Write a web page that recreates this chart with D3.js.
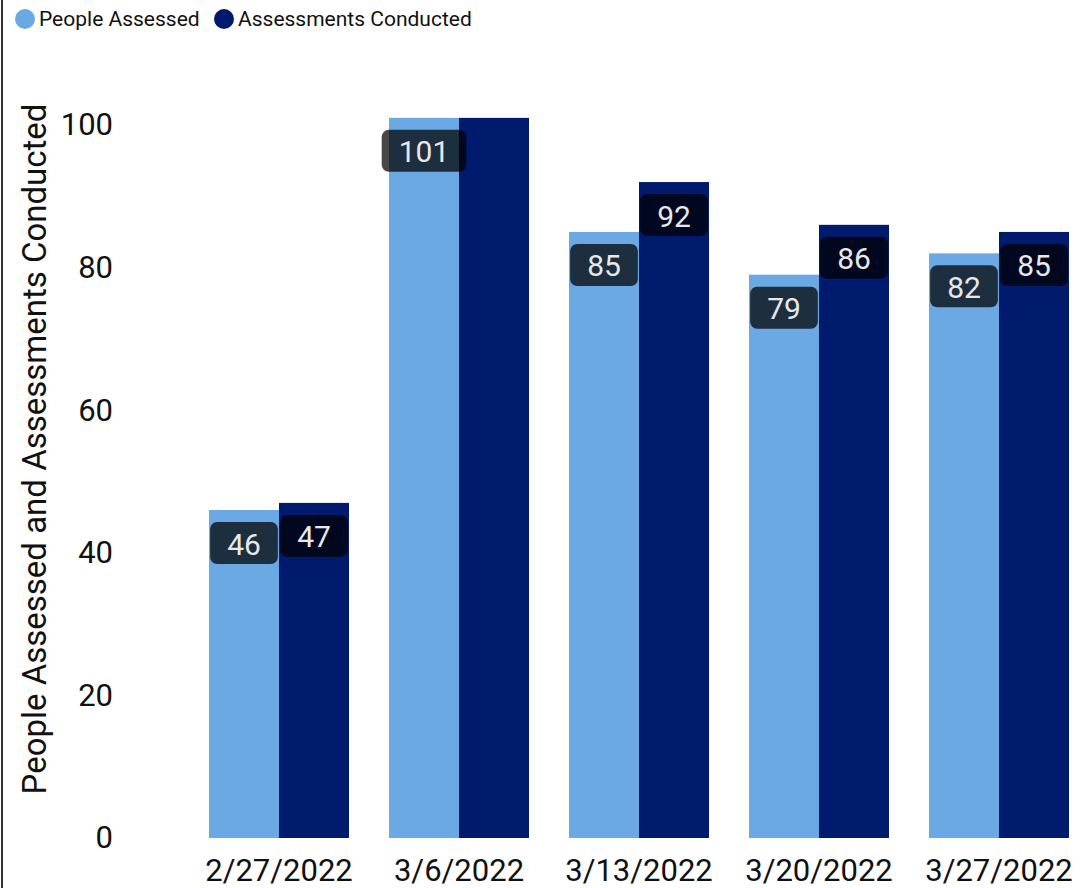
<!DOCTYPE html>
<html>
<head>
<meta charset="utf-8">
<script src="https://cdn.jsdelivr.net/npm/d3@7"></script>
<style>
  html, body { margin: 0; padding: 0; background: #fff; }
  svg { display: block; }
  text { font-family: Roboto, "DejaVu Sans", sans-serif; }
</style>
</head>
<body>
<svg id="chart" width="1082" height="888"></svg>
<script>
const categories = ["2/27/2022", "3/6/2022", "3/13/2022", "3/20/2022", "3/27/2022"];
const seriesNames = ["People Assessed", "Assessments Conducted"];
const peopleAssessed = [46, 101, 85, 79, 82];
const assessmentsConducted = [47, 101, 92, 86, 85];
const yTicks = [0, 20, 40, 60, 80, 100];
const colors = ["#6aa9e3", "#001a6d"];
const yTitle = "People Assessed and Assessments Conducted";

const svg = d3.select("#chart");
const W = 1082, H = 888;

// left border
svg.append("line").attr("x1", 2).attr("x2", 2).attr("y1", 0).attr("y2", H)
  .attr("stroke", "#333").attr("stroke-width", 2);

const x0 = d3.scaleBand().domain(categories).range([189, 1089])
  .paddingInner(40 / 180).paddingOuter(20 / 180);
const x1 = d3.scaleBand().domain(seriesNames).range([0, x0.bandwidth()]).padding(0);
const y = d3.scaleLinear().domain([0, 100]).range([838, 125]);

const seriesData = [peopleAssessed, assessmentsConducted];

// bars
const groups = svg.append("g").selectAll("g").data(categories).join("g")
  .attr("transform", d => `translate(${x0(d)},0)`);
groups.selectAll("rect")
  .data((c, i) => seriesNames.map((s, j) => ({ s, v: seriesData[j][i] })))
  .join("rect")
  .attr("x", d => x1(d.s))
  .attr("width", x1.bandwidth())
  .attr("y", d => y(d.v))
  .attr("height", d => y(0) - y(d.v))
  .attr("fill", (d, j) => colors[j]);

// y axis
const yAxis = svg.append("g").attr("transform", "translate(116,0)")
  .call(d3.axisLeft(y).tickValues(yTicks).tickSize(0).tickPadding(3));
yAxis.select(".domain").remove();
yAxis.selectAll("text").attr("font-size", 31).attr("fill", "#111")
  .style("font-family", "Roboto, sans-serif");

// x axis
const xAxis = svg.append("g").attr("transform", "translate(0,838)")
  .call(d3.axisBottom(x0).tickSize(0).tickPadding(21));
xAxis.select(".domain").remove();
xAxis.selectAll("text").attr("font-size", 31).attr("fill", "#111")
  .style("font-family", "Roboto, sans-serif");

// y title
svg.append("text")
  .attr("transform", "translate(46,449) rotate(-90)")
  .attr("text-anchor", "middle")
  .attr("font-size", 33)
  .attr("fill", "#111")
  .text(yTitle);

// data labels with collision skipping
const labelLayer = svg.append("g");
const placed = [];
categories.forEach((c, i) => {
  seriesNames.forEach((s, j) => {
    const v = seriesData[j][i];
    const cx = x0(c) + x1(s) + x1.bandwidth() / 2;
    const top = y(v) + 12;
    const g = labelLayer.append("g");
    const t = g.append("text")
      .attr("x", cx).attr("y", top + 22)
      .attr("text-anchor", "middle")
      .attr("dominant-baseline", "central")
      .attr("font-size", 30)
      .attr("fill", "#e8e8e8")
      .text(v);
    const tw = t.node().getComputedTextLength();
    const bw = tw + 34, bh = 42;
    const box = { x: cx - bw / 2, y: top, w: bw, h: bh };
    const overlaps = placed.some(b => box.x < b.x + b.w && b.x < box.x + box.w &&
                                      box.y < b.y + b.h && b.y < box.y + box.h);
    if (overlaps) { g.remove(); return; }
    placed.push(box);
    g.insert("rect", "text")
      .attr("x", box.x).attr("y", box.y).attr("width", bw).attr("height", bh)
      .attr("rx", 7).attr("fill", "rgba(0,0,0,0.72)");
  });
});

// legend
const legend = svg.append("g");
const legendX = [25, 224];
seriesNames.forEach((s, j) => {
  legend.append("circle").attr("cx", legendX[j]).attr("cy", 19).attr("r", 10).attr("fill", colors[j]);
  legend.append("text").attr("x", legendX[j] + 14).attr("y", 19)
    .attr("dominant-baseline", "central")
    .attr("font-size", 21).attr("fill", "#111").text(s);
});
</script>
</body>
</html>
